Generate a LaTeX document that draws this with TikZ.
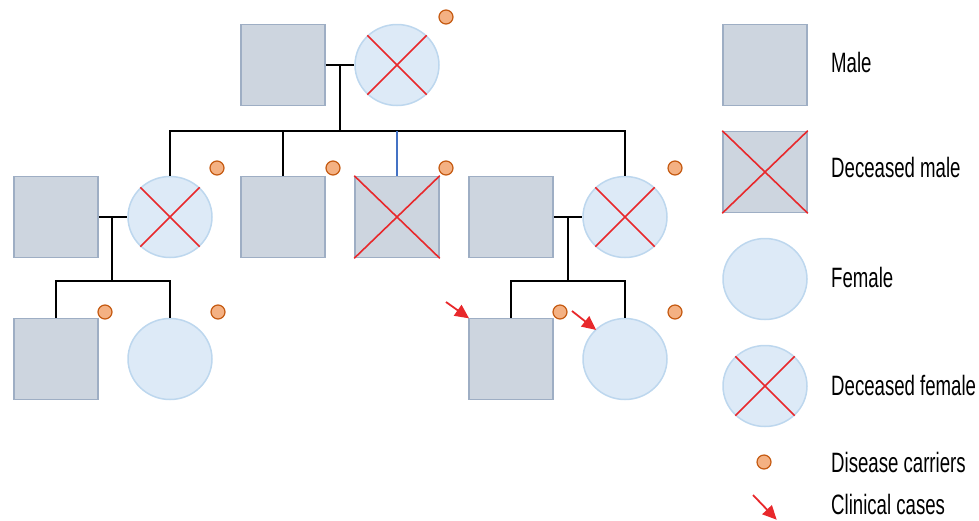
\documentclass[tikz,border=0pt]{standalone}
\usepackage{fontspec}
\setmainfont[FakeStretch=0.665]{Liberation Sans}
\usetikzlibrary{shapes.geometric,arrows.meta}
\definecolor{mfill}{HTML}{CDD5DF}
\definecolor{mdraw}{HTML}{9EAEC4}
\definecolor{ffill}{HTML}{DDEAF7}
\definecolor{fdraw}{HTML}{BDD7EE}
\definecolor{xred}{HTML}{E8282B}
\definecolor{cfill}{HTML}{F4B183}
\definecolor{cdraw}{HTML}{C55A11}
\definecolor{bline}{HTML}{4472C4}
\tikzset{
  male/.style={rectangle,fill=mfill,draw=mdraw,line width=1.5pt,minimum width=84pt,minimum height=81pt,inner sep=0pt},
  female/.style={ellipse,fill=ffill,draw=fdraw,line width=1.5pt,minimum width=84pt,minimum height=81pt,inner sep=0pt},
  carrier/.style={circle,fill=cfill,draw=cdraw,line width=1.2pt,minimum size=14pt,inner sep=0pt},
  xline/.style={draw=xred,line width=1.6pt},
  link/.style={draw=black,line width=1.7pt},
  case/.style={draw=xred,line width=1.8pt,-{Triangle[length=14pt,width=13pt]},shorten >=-1pt},
  lab/.style={anchor=west,font=\fontsize{28}{30}\selectfont,inner sep=0pt}
}
\newcommand{\sqx}[1]{\draw[xline] (#1.north west)--(#1.south east) (#1.north east)--(#1.south west);}
\newcommand{\cix}[1]{\draw[xline] (#1.45)--(#1.225) (#1.135)--(#1.315);}
\begin{document}
\begin{tikzpicture}[x=1pt,y=-1pt]
\useasboundingbox (0,0) rectangle (979,520);
% generation 1
\node[male] (g1m) at (283,65) {};
\node[female] (g1f) at (397,65) {};
\cix{g1f}
\node[carrier] (c1) at (446,17) {};
% generation 2
\node[male] (g2a) at (56,217) {};
\node[female] (g2b) at (170,217) {};
\cix{g2b}
\node[male] (g2c) at (283,217) {};
\node[male] (g2d) at (397,217) {};
\sqx{g2d}
\node[male] (g2e) at (511,217) {};
\node[female] (g2f) at (625,217) {};
\cix{g2f}
\node[carrier] (c2b) at (217,168) {};
\node[carrier] (c2c) at (333,168) {};
\node[carrier] (c2d) at (446,168) {};
\node[carrier] (c2f) at (675,168) {};
% generation 3
\node[male] (g3a) at (56,359) {};
\node[female] (g3b) at (170,359) {};
\node[male] (g3c) at (511,359) {};
\node[female] (g3d) at (625,359) {};
\node[carrier] (c3a) at (105,312) {};
\node[carrier] (c3b) at (218,312) {};
\node[carrier] (c3c) at (560,312) {};
\node[carrier] (c3d) at (675,312) {};
% connectors
\coordinate (m1) at (340,65);
\coordinate (s1) at (340,131);
\draw[link] (g1m.east) -- (g1f.west);
\draw[link] (m1) -- (s1);
\draw[link] (g2b.north) |- (s1) -| (g2f.north);
\draw[link] (g2c.north) -- (g2c.north |- s1);
\draw[draw=bline,line width=1.2pt] (g2d.north) -- (g2d.north |- s1);
\coordinate (m2) at (112,217);
\coordinate (s2) at (112,281);
\draw[link] (g2a.east) -- (g2b.west);
\draw[link] (m2) -- (s2);
\draw[link] (g3a.north) |- (s2) -| (g3b.north);
\coordinate (m3) at (568,217);
\coordinate (s3) at (568,281);
\draw[link] (g2e.east) -- (g2f.west);
\draw[link] (m3) -- (s3);
\draw[link] (g3c.north) |- (s3) -| (g3d.north);
% clinical cases
\coordinate (a1) at (446,302);
\coordinate (a2) at (572,311);
\draw[case] (a1) -- (g3c.north west);
\draw[case] (a2) -- (g3d.135);
% legend
\node[male] (lm) at (765,65) {};
\node[male] (ldm) at (765,172) {};
\sqx{ldm}
\node[female] (lf) at (765,279) {};
\node[female] (ldf) at (765,386) {};
\cix{ldf}
\node[carrier] (lc) at (764,462) {};
\coordinate (la1) at (753,495);
\coordinate (la2) at (776,519);
\draw[case] (la1) -- (la2);
\node[lab] (t1) at (831,62) {Male};
\node[lab] (t2) at (831,167) {Deceased male};
\node[lab] (t3) at (831,277) {Female};
\node[lab] (t4) at (831,385) {Deceased female};
\node[lab] (t5) at (831,462) {Disease carriers};
\node[lab] (t6) at (831,504) {Clinical cases};
\end{tikzpicture}
\end{document}
